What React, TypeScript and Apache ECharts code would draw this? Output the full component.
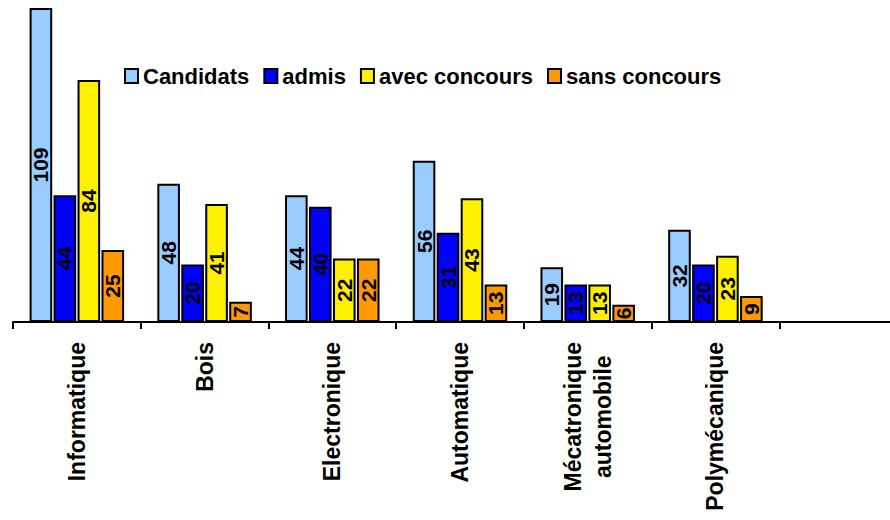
import React, { useEffect, useRef } from "react";
import * as echarts from "echarts";

const categories = [
  "Informatique",
  "Bois",
  "Electronique",
  "Automatique",
  "Mécatronique\nautomobile",
  "Polymécanique",
  "",
];
const seriesNames = ["Candidats", "admis", "avec concours", "sans concours"];
const candidats = [109, 48, 44, 56, 19, 32];
const admis = [44, 20, 40, 31, 13, 20];
const avecConcours = [84, 41, 22, 43, 13, 23];
const sansConcours = [25, 7, 22, 13, 6, 9];
const colors = ["#99CCFF", "#0000FF", "#FFF000", "#FF9900"];

const FONT = 'Arial, "Liberation Sans", sans-serif';

export default function App() {
  const ref = useRef<HTMLDivElement>(null);
  useEffect(() => {
    if (!ref.current) return;
    const chart = echarts.init(ref.current, undefined, { renderer: "svg" });
    const values = [candidats, admis, avecConcours, sansConcours];
    chart.setOption({
      animation: false,
      backgroundColor: "#ffffff",
      legend: {
        left: 119,
        top: 60,
        itemWidth: 13,
        itemHeight: 14,
        itemGap: 14,
        icon: "rect",
        textStyle: { fontFamily: FONT, fontSize: 22, fontWeight: "bold", color: "#000" },
        itemStyle: { borderColor: "#000", borderWidth: 2 },
        data: seriesNames,
      },
      grid: { left: 13, top: 8, width: 894, height: 314, containLabel: false },
      xAxis: {
        type: "category",
        data: categories,
        axisLine: { show: true, lineStyle: { color: "#000", width: 2 } },
        axisTick: { show: true, length: 7, lineStyle: { color: "#000", width: 2 } },
        axisLabel: {
          interval: 0,
          rotate: 90,
          margin: 20,
          color: "#000",
          fontFamily: FONT,
          fontSize: 23,
          fontWeight: "bold",
          lineHeight: 30,
          formatter: (v: string) =>
            v
              .split("\n")
              .map((l) => "{c|" + l + "}")
              .join("\n"),
          rich: {
            c: {
              align: "center",
              fontFamily: FONT,
              fontSize: 23,
              fontWeight: "bold",
              color: "#000",
              lineHeight: 30,
            },
          },
        },
      },
      yAxis: {
        type: "value",
        min: 0,
        max: 109,
        show: false,
        splitLine: { show: false },
      },
      series: seriesNames.map((name, i) => ({
        name,
        type: "bar",
        data: values[i],
        barGap: "6%",
        barCategoryGap: "26%",
        itemStyle: { color: colors[i], borderColor: "#000", borderWidth: 2 },
        label: {
          show: true,
          position: "inside",
          rotate: 90,
          align: "center",
          verticalAlign: "middle",
          color: "#000",
          fontFamily: FONT,
          fontSize: 21,
          fontWeight: "bold",
        },
      })),
    });
    return () => chart.dispose();
  }, []);
  return (
    <div
      style={{
        position: "absolute",
        left: 0,
        top: 0,
        width: 890,
        height: 520,
        overflow: "hidden",
        background: "#fff",
      }}
    >
      <div ref={ref} style={{ width: 910, height: 520 }} />
    </div>
  );
}
